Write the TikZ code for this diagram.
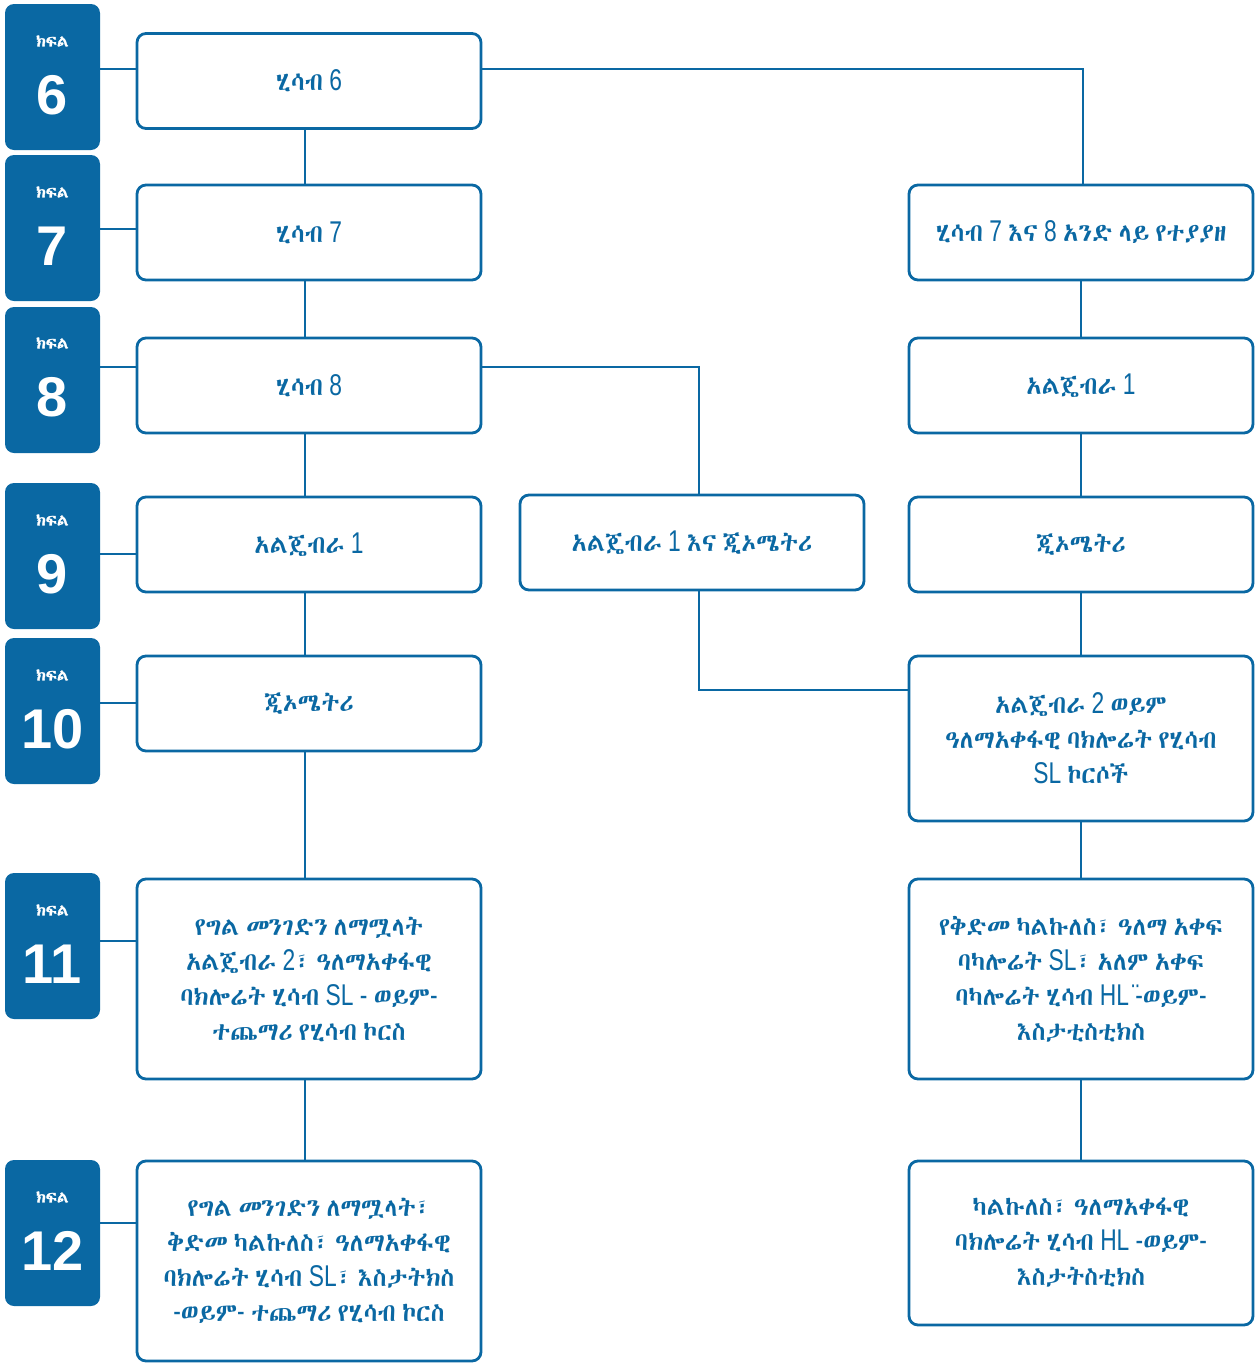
\documentclass[tikz,border=0pt]{standalone}
\usepackage{fontspec}
\setmainfont{Liberation Sans}
\newfontfamily\latfont{Liberation Sans}[Scale=1.2, FakeStretch=0.76]
\newfontfamily\ethfont{Abyssinica SIL}
\newfontfamily\ethbold[FakeBold=1.5]{Abyssinica SIL}
\definecolor{ibblue}{HTML}{0A68A3}
% Ethiopic letters in Abyssinica SIL, the rest in Liberation Sans
\XeTeXinterchartokenstate=1
\newXeTeXintercharclass\ethclass
\newcount\ethc
\ethc="1200
\loop \XeTeXcharclass\ethc=\ethclass \ifnum\ethc<"137F \advance\ethc by 1 \repeat
\XeTeXinterchartoks 0 \ethclass = {\ethfont}
\XeTeXinterchartoks 4095 \ethclass = {\ethfont}
\XeTeXinterchartoks \ethclass 0 = {\latfont}
\XeTeXinterchartoks \ethclass 4095 = {\latfont}
\newcommand\gradefont{\XeTeXinterchartokenstate=0\relax\ethbold\fontsize{16}{16}\selectfont}

\begin{document}
\begin{tikzpicture}[x=1pt,y=-1pt,
    box/.style={draw=ibblue, line width=2.8pt, rounded corners=9pt, fill=white,
      minimum width=344pt, minimum height=95pt, inner sep=0pt, align=center,
      text=ibblue, font=\latfont\fontsize{25}{35}\selectfont},
    grade/.style={fill=ibblue, rounded corners=9pt, minimum width=95pt,
      minimum height=146pt, inner sep=0pt},
    gword/.style={text=white, inner sep=0pt, font=\gradefont},
    gnum/.style={text=white, inner sep=0pt, font=\bfseries\fontsize{56}{56}\selectfont},
    link/.style={draw=ibblue, line width=2.8pt}]
  \useasboundingbox (0,0) rectangle (1256,1363);

  \node[grade] (g6) at (52.5,77) {};
  \node[gword] (g6w) at (52.5,41) {ክፍል};
  \node[gnum] (g6n) at (52.5,95) {6};
  \node[grade] (g7) at (52.5,228) {};
  \node[gword] (g7w) at (52.5,192) {ክፍል};
  \node[gnum] (g7n) at (52.5,246) {7};
  \node[grade] (g8) at (52.5,380) {};
  \node[gword] (g8w) at (52.5,343) {ክፍል};
  \node[gnum] (g8n) at (52.5,397) {8};
  \node[grade] (g9) at (52.5,556) {};
  \node[gword] (g9w) at (52.5,520) {ክፍል};
  \node[gnum] (g9n) at (52.5,574) {9};
  \node[grade] (g10) at (52.5,711) {};
  \node[gword] (g10w) at (52.5,675) {ክፍል};
  \node[gnum] (g10n) at (52.5,729) {10};
  \node[grade] (g11) at (52.5,946) {};
  \node[gword] (g11w) at (52.5,910) {ክፍል};
  \node[gnum] (g11n) at (52.5,964) {11};
  \node[grade] (g12) at (52.5,1233) {};
  \node[gword] (g12w) at (52.5,1197) {ክፍል};
  \node[gnum] (g12n) at (52.5,1251) {12};

  \node[box] (h6) at (309,81) {ሂሳብ 6};
  \node[box] (h7) at (309,232.5) {ሂሳብ 7};
  \node[box] (h8) at (309,385.5) {ሂሳብ 8};
  \node[box] (alg) at (309,544.5) {አልጄብራ 1};
  \node[box] (geo) at (309,703.5) {ጂኦሜትሪ};
  \node[box, minimum height=200pt] (opt11) at (309,979) {የግል መንገድን ለማሟላት\\አልጄብራ 2፣ ዓለማአቀፋዊ\\ባክሎሬት ሂሳብ SL - ወይም-\\ተጨማሪ የሂሳብ ኮርስ};
  \node[box, minimum height=200pt] (opt12) at (309,1261) {የግል መንገድን ለማሟላት፣\\ቅድመ ካልኩለስ፣ ዓለማአቀፋዊ\\ባክሎሬት ሂሳብ SL፣ እስታትክስ\\-ወይም- ተጨማሪ የሂሳብ ኮርስ};

  \node[box] (mix) at (692,542.5) {አልጄብራ 1 እና ጂኦሜትሪ};

  \node[box] (acc) at (1081,232.5) {ሂሳብ 7 እና 8 አንድ ላይ የተያያዘ};
  \node[box] (ralg) at (1081,385.5) {አልጄብራ 1};
  \node[box] (rgeo) at (1081,544.5) {ጂኦሜትሪ};
  \node[box, minimum height=165pt] (ralg2) at (1081,738.5) {አልጄብራ 2 ወይም\\ዓለማአቀፋዊ ባክሎሬት የሂሳብ\\SL ኮርሶች};
  \node[box, minimum height=200pt] (pre) at (1081,979) {የቅድመ ካልኩለስ፣ ዓለማ አቀፍ\\ባካሎሬት SL፣ አለም አቀፍ\\ባካሎሬት ሂሳብ HL ̈-ወይም-\\እስታቲስቲክስ};
  \node[box, minimum height=164pt] (calc) at (1081,1243) {ካልኩለስ፣ ዓለማአቀፋዊ\\ባክሎሬት ሂሳብ HL -ወይም-\\እስታትስቲክስ};

  \coordinate (k6) at (1083,69);
  \coordinate (k8) at (699,367);
  \coordinate (km) at (699,690);

  \draw[link] ([yshift=8pt]g6.east) -- ([yshift=8pt]g6.east -| h6.west);
  \draw[link] ([yshift=-1pt]g7.east) -- ([yshift=-1pt]g7.east -| h7.west);
  \draw[link] ([yshift=13pt]g8.east) -- ([yshift=13pt]g8.east -| h8.west);
  \draw[link] ([yshift=2pt]g9.east) -- ([yshift=2pt]g9.east -| alg.west);
  \draw[link] ([yshift=8pt]g10.east) -- ([yshift=8pt]g10.east -| geo.west);
  \draw[link] ([yshift=5pt]g11.east) -- ([yshift=5pt]g11.east -| opt11.west);
  \draw[link] ([yshift=10pt]g12.east) -- ([yshift=10pt]g12.east -| opt12.west);

  \draw[link] ([xshift=-4pt]h6.south) -- ([xshift=-4pt]h7.north);
  \draw[link] ([xshift=-4pt]h7.south) -- ([xshift=-4pt]h8.north);
  \draw[link] ([xshift=-4pt]h8.south) -- ([xshift=-4pt]alg.north);
  \draw[link] ([xshift=-4pt]alg.south) -- ([xshift=-4pt]geo.north);
  \draw[link] ([xshift=-4pt]geo.south) -- ([xshift=-4pt]opt11.north);
  \draw[link] ([xshift=-4pt]opt11.south) -- ([xshift=-4pt]opt12.north);

  \draw[link] (h6.east |- k6) -- (k6) -- (k6 |- acc.north);
  \draw[link] (h8.east |- k8) -- (k8) -- (k8 |- mix.north);
  \draw[link] (mix.south -| km) -- (km) -- (km -| ralg2.west);

  \draw[link] (acc.south) -- (ralg.north);
  \draw[link] (ralg.south) -- (rgeo.north);
  \draw[link] (rgeo.south) -- (ralg2.north);
  \draw[link] (ralg2.south) -- (pre.north);
  \draw[link] (pre.south) -- (calc.north);
\end{tikzpicture}
\end{document}
